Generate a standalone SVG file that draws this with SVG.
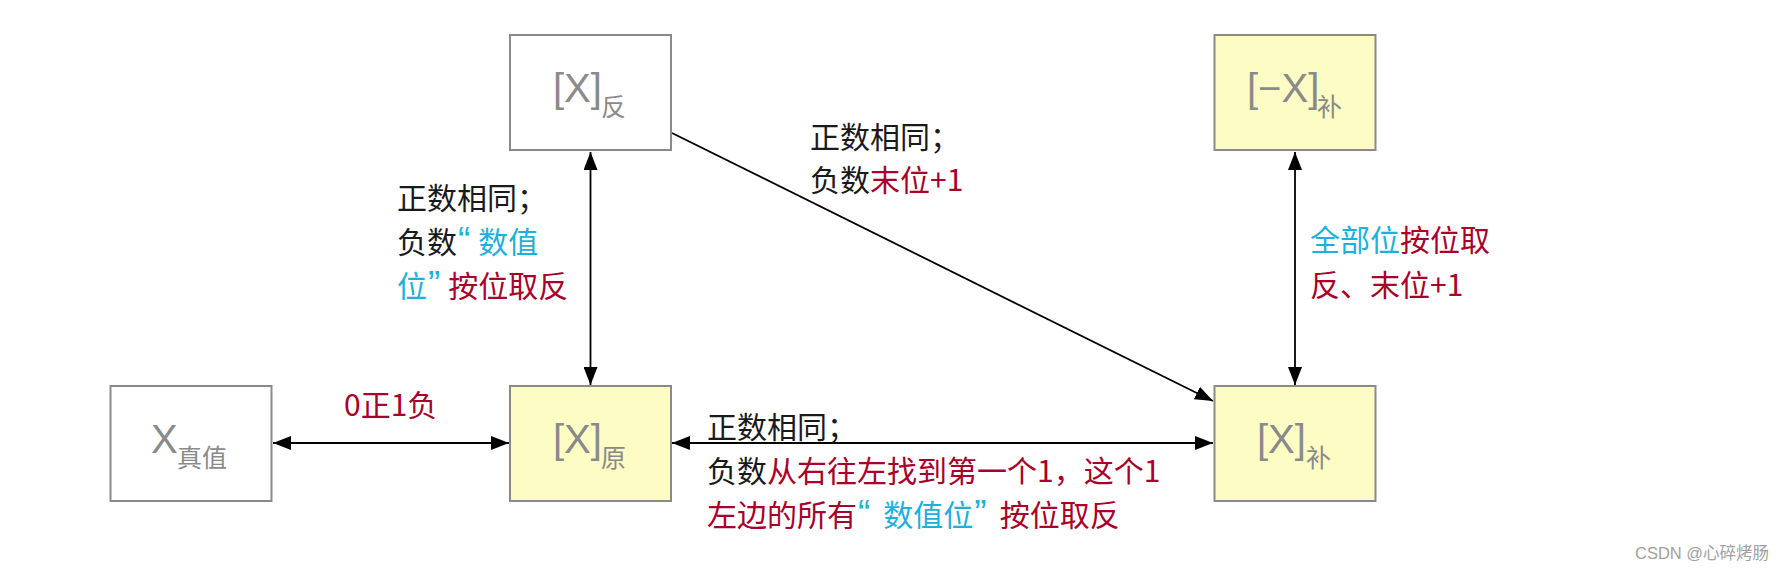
<svg xmlns="http://www.w3.org/2000/svg" width="1785" height="571" viewBox="0 0 1785 571">
<style>
.box{stroke:#8a8a8a;stroke-width:2}
.w{fill:#ffffff}
.y{fill:#fdfcc4}
.nl{font-family:"Liberation Sans",Arial,sans-serif;font-size:40px;fill:#8a8a8a}
.ns{font-family:"Noto Sans CJK SC",sans-serif;font-size:25px;fill:#8a8a8a}
.lb{font-family:"Noto Sans CJK SC",sans-serif;font-size:30px;fill:#1a1a1a}
.q{font-family:"Liberation Sans",Arial,sans-serif;font-size:37px}
.r{fill:#a8002a}
.c{fill:#1cb0dc}
.con{stroke:#000;stroke-width:1.8;fill:none}
.wm{font-family:"Liberation Sans","Noto Sans CJK SC",sans-serif;font-size:16.5px;fill:#a0a0a0}
</style>
<defs>
<marker id="ah" markerUnits="userSpaceOnUse" markerWidth="18" markerHeight="14" refX="18" refY="7" orient="auto-start-reverse" viewBox="0 0 18 14">
<path d="M0,0 L18,7 L0,14 z" fill="#000"/>
</marker>
</defs>
<rect width="1785" height="571" fill="#ffffff"/>
<g id="connectors">
<line class="con" x1="590.5" y1="152" x2="590.5" y2="385" marker-start="url(#ah)" marker-end="url(#ah)"/>
<line class="con" x1="1295" y1="152" x2="1295" y2="385" marker-start="url(#ah)" marker-end="url(#ah)"/>
<line class="con" x1="273" y1="443" x2="509" y2="443" marker-start="url(#ah)" marker-end="url(#ah)"/>
<line class="con" x1="672" y1="443" x2="1213" y2="443" marker-start="url(#ah)" marker-end="url(#ah)"/>
<line class="con" x1="672" y1="133" x2="1213" y2="401" marker-end="url(#ah)"/>
</g>
<g id="node-fan">
<rect class="box w" x="510" y="35" width="161" height="115"/>
<text class="nl" x="553" y="102">[X]</text>
<text class="ns" x="601" y="116">反</text>
</g>
<g id="node-negbu">
<rect class="box y" x="1214.5" y="35" width="161" height="115"/>
<text class="nl" x="1247" y="102">[−X]</text>
<text class="ns" x="1317" y="116">补</text>
</g>
<g id="node-zhen">
<rect class="box w" x="110.5" y="386" width="161" height="115"/>
<text class="nl" x="151" y="453">X</text>
<text class="ns" x="177" y="467">真值</text>
</g>
<g id="node-yuan">
<rect class="box y" x="510" y="386" width="161" height="115"/>
<text class="nl" x="553" y="453">[X]</text>
<text class="ns" x="601" y="467">原</text>
</g>
<g id="node-bu">
<rect class="box y" x="1214.5" y="386" width="161" height="115"/>
<text class="nl" x="1257" y="453">[X]</text>
<text class="ns" x="1306" y="467">补</text>
</g>
<g id="labels">
<text class="lb r" x="344" y="416">0正1负</text>
<text class="lb" x="397" y="209">正数相同；</text>
<text class="lb" x="397" y="253">负数<tspan class="c q" dx="1">“</tspan><tspan class="c" dx="8">数值</tspan></text>
<text class="lb" x="397" y="297"><tspan class="c">位</tspan><tspan class="c q" dx="1">”</tspan><tspan class="r" dx="8">按位取反</tspan></text>
<text class="lb" x="810" y="148">正数相同；</text>
<text class="lb" x="810" y="191">负数<tspan class="r">末位+1</tspan></text>
<text class="lb" x="1310" y="251"><tspan class="c">全部位</tspan><tspan class="r">按位取</tspan></text>
<text class="lb r" x="1310" y="296">反、末位+1</text>
<text class="lb" x="707" y="438">正数相同；</text>
<text class="lb" x="707" y="482">负数<tspan class="r">从右往左找到第一个1，这个1</tspan></text>
<text class="lb r" x="707" y="526">左边的所有<tspan class="c q" dx="1">“</tspan><tspan class="c" dx="13">数值位</tspan><tspan class="c q" dx="1">”</tspan><tspan dx="13">按位取反</tspan></text>
</g>
<text class="wm" x="1635" y="559">CSDN @心碎烤肠</text>
</svg>
